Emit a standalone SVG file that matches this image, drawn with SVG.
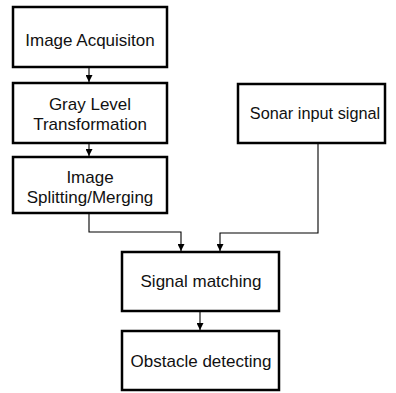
<svg xmlns="http://www.w3.org/2000/svg" width="396" height="393" viewBox="0 0 396 393">
<style>
.box{fill:#fff;stroke:#000;stroke-width:2.5}
.t{font-family:"Liberation Sans",Arial,sans-serif;font-size:17px;fill:#111;text-anchor:middle}
.c{fill:none;stroke:#000;stroke-width:1.1}
</style>
<defs>
<marker id="arr" markerWidth="7" markerHeight="7" refX="3.5" refY="7" orient="0" markerUnits="userSpaceOnUse" viewBox="0 0 7 7">
<path d="M0,0 L7,0 L3.5,7 Z" fill="#000"/>
</marker>
</defs>
<rect width="396" height="393" fill="#fff"/>
<g id="connectors">
<path class="c" d="M89,67 V82" marker-end="url(#arr)"/>
<path class="c" d="M89,143 V156" marker-end="url(#arr)"/>
<path class="c" d="M89,213 V232 H181 V251" marker-end="url(#arr)"/>
<path class="c" d="M318,143 V233 H220 V251" marker-end="url(#arr)"/>
<path class="c" d="M200,311 V330" marker-end="url(#arr)"/>
</g>
<g id="n1"><rect class="box" x="13" y="7" width="154" height="60"/><text class="t" x="90" y="46">Image Acquisiton</text></g>
<g id="n2"><rect class="box" x="13" y="83" width="154" height="60"/><text class="t" x="90" y="110">Gray Level</text><text class="t" x="90" y="130">Transformation</text></g>
<g id="n3"><rect class="box" x="13" y="157" width="154" height="56"/><text class="t" x="90" y="183">Image</text><text class="t" x="90" y="203">Splitting/Merging</text></g>
<g id="n4"><rect class="box" x="238" y="84" width="147" height="59"/><text class="t" x="315" y="119" style="font-size:16.3px">Sonar input signal</text></g>
<g id="n5"><rect class="box" x="122" y="252" width="157" height="59"/><text class="t" x="201" y="287">Signal matching</text></g>
<g id="n6"><rect class="box" x="122" y="331" width="157" height="59"/><text class="t" x="201" y="367">Obstacle detecting</text></g>
</svg>
